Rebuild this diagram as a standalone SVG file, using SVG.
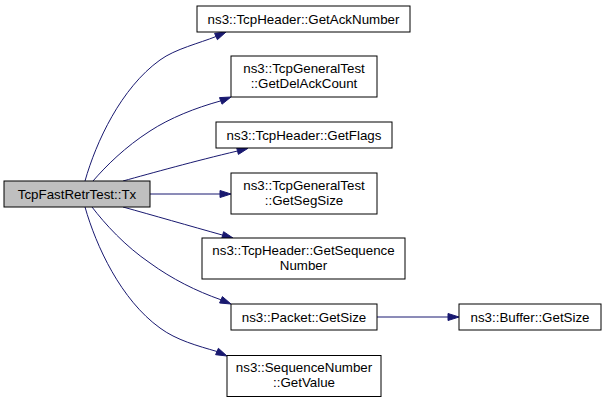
<svg xmlns="http://www.w3.org/2000/svg" width="605" height="403" viewBox="0 0 605 403">
<style>
.node rect{fill:#ffffff;stroke:#000000;stroke-width:1}
#n0 rect{fill:#bfbfbf}
text{font-family:"Liberation Sans",Helvetica,Arial,sans-serif;font-size:13.33px;fill:#000000;text-anchor:middle}
.edge path{fill:none;stroke:#191970;stroke-width:1}
.edge polygon{fill:#191970;stroke:#191970;stroke-width:1}
</style>
<rect x="0" y="0" width="605" height="403" fill="#ffffff"/>
<g id="edges">
<g class="edge"><path d="M85,181 C96,142 121,88 160,60 C175,49 200,43 216,36.5"/><polygon points="226,32 217.4,39.7 214.6,33.3"/></g>
<g class="edge"><path d="M93,181 C106,166 125,147 150,131 C170,118 195,108 220.7,100.9"/><polygon points="231,97 222,104.2 219.5,97.6"/></g>
<g class="edge"><path d="M123,181 C152,173 195,161 237.5,151"/><polygon points="248,148.3 238.4,154.4 236.6,147.6"/></g>
<g class="edge"><path d="M150,194 L220,194"/><polygon points="231,194 220,197.5 220,190.5"/></g>
<g class="edge"><path d="M123,207 C152,215 190,226 222.6,235.1"/><polygon points="233,238 221.7,238.5 223.6,231.7"/></g>
<g class="edge"><path d="M92,207 C105,224 125,246 150,263 C172,279 196,291 221,299.8"/><polygon points="231,304 219.6,303 222.4,296.6"/></g>
<g class="edge"><path d="M85,207 C96,246 121,300 160,328 C176,340 198,346 217,351.5"/><polygon points="227,356 215.6,354.7 218.4,348.3"/></g>
<g class="edge"><path d="M377,317 L448,317"/><polygon points="459,317 448,320.5 448,313.5"/></g>
</g>
<g id="n0" class="node"><rect x="4" y="181" width="146" height="26"/><text x="77" y="198.5">TcpFastRetrTest::Tx</text></g>
<g id="n1" class="node"><rect x="197" y="6" width="213" height="26"/><text x="303.5" y="23.5">ns3::TcpHeader::GetAckNumber</text></g>
<g id="n2" class="node"><rect x="231" y="56" width="146" height="41"/><text x="304" y="72.5">ns3::TcpGeneralTest</text><text x="304" y="87.5">::GetDelAckCount</text></g>
<g id="n3" class="node"><rect x="216" y="122" width="176" height="26"/><text x="304" y="139.5">ns3::TcpHeader::GetFlags</text></g>
<g id="n4" class="node"><rect x="231" y="173" width="146" height="41"/><text x="304" y="189.5">ns3::TcpGeneralTest</text><text x="304" y="204.5">::GetSegSize</text></g>
<g id="n5" class="node"><rect x="202" y="238" width="203" height="41"/><text x="303.5" y="254.5">ns3::TcpHeader::GetSequence</text><text x="303.5" y="269.5">Number</text></g>
<g id="n6" class="node"><rect x="231" y="304" width="146" height="26"/><text x="304" y="321.5">ns3::Packet::GetSize</text></g>
<g id="n7" class="node"><rect x="459" y="304" width="142" height="26"/><text x="530" y="321.5">ns3::Buffer::GetSize</text></g>
<g id="n8" class="node"><rect x="227" y="355.5" width="154" height="41"/><text x="304" y="372">ns3::SequenceNumber</text><text x="304" y="387">::GetValue</text></g>
</svg>
